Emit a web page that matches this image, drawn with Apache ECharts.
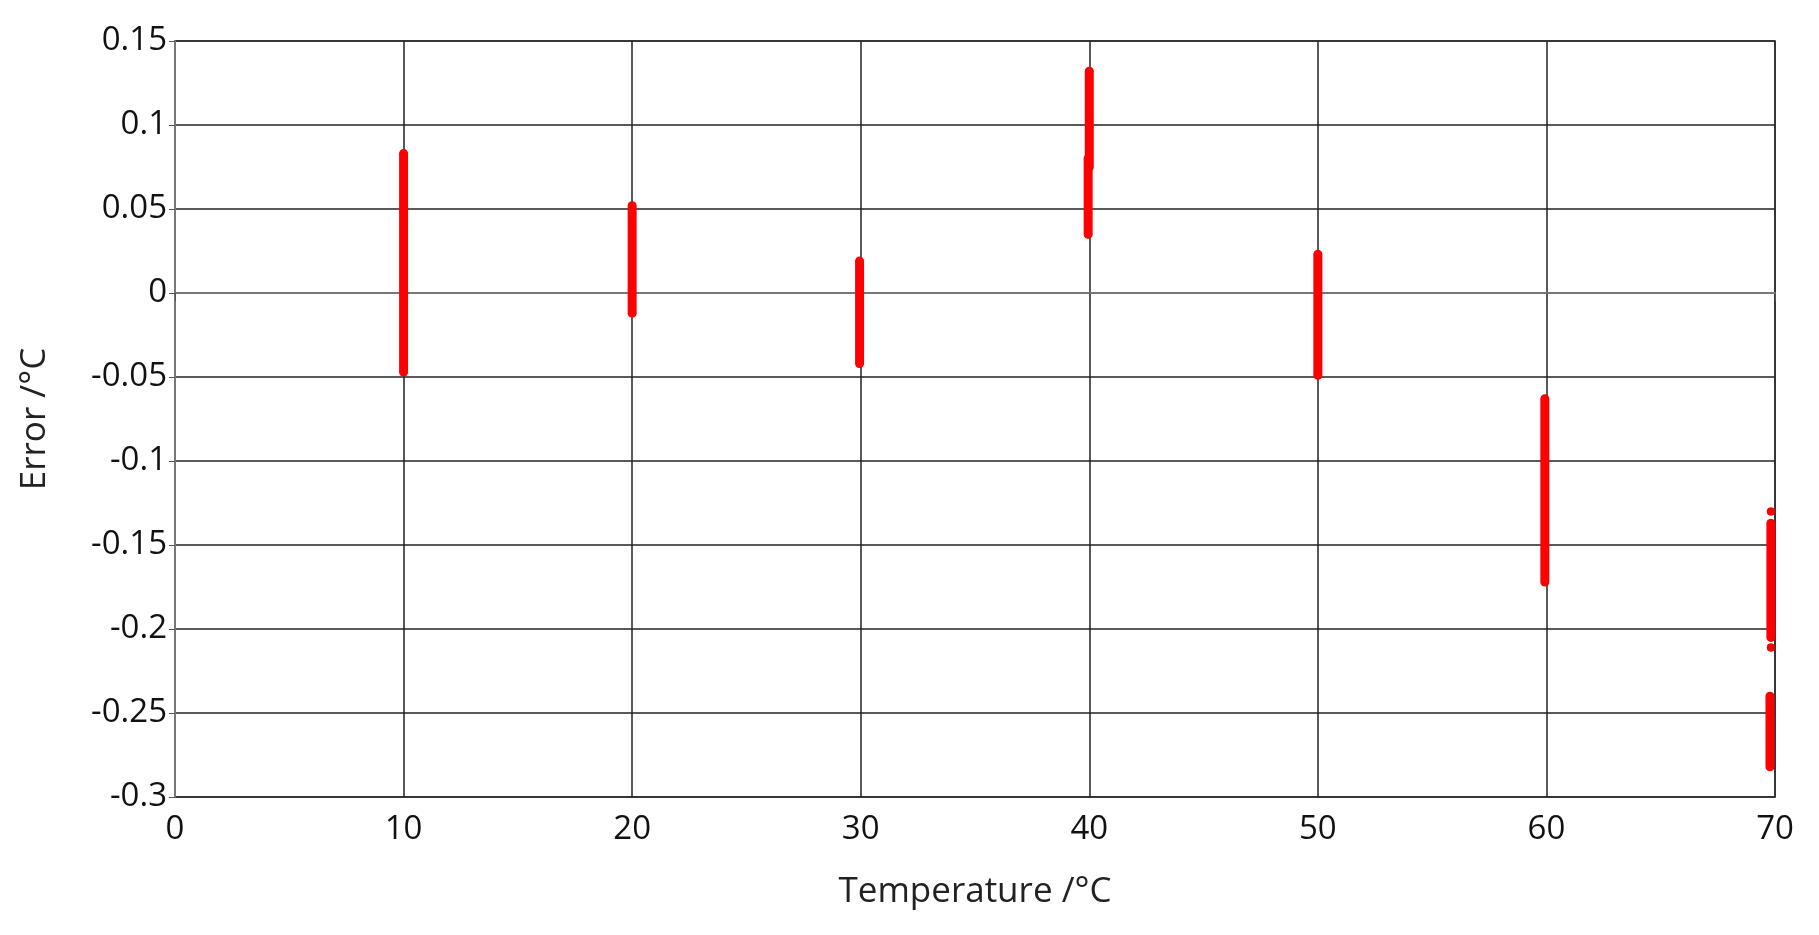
<!DOCTYPE html>
<html><head><meta charset="utf-8">
<script src="https://cdn.jsdelivr.net/npm/echarts@6/dist/echarts.min.js"></script>
<style>html,body{margin:0;background:#fff}#c{width:1819px;height:935px}</style>
</head><body><div id="c"></div>
<script>
// each measured cluster: [temperature, top error, bottom error]
const segX = [10, 20, 29.95, 40, 39.95, 50, 59.93, 69.82, 69.82, 69.82, 69.78];
const segTop = [0.083, 0.052, 0.019, 0.132, 0.08, 0.023, -0.063, -0.13, -0.137, -0.211, -0.24];
const segBottom = [-0.047, -0.012, -0.042, 0.075, 0.035, -0.049, -0.172, -0.13, -0.205, -0.211, -0.282];

const series = segX.map((x, i) => ({
  type: 'line',
  data: [[x, segTop[i]], [x, segBottom[i]]],
  symbol: 'circle',
  symbolSize: 8,
  itemStyle: { color: '#ff0000' },
  lineStyle: { color: '#ff0000', width: 9, cap: 'round' },
  silent: true
}));

const chart = echarts.init(document.getElementById('c'));
const font = 'Open Sans';
chart.setOption({
  animation: false,
  grid: { left: 175, right: 44, top: 41, bottom: 138, show: true, borderColor: '#777', borderWidth: 2 },
  xAxis: {
    type: 'value', min: 0, max: 70, interval: 10,
    name: 'Temperature /°C', nameLocation: 'middle', nameGap: 78,
    nameTextStyle: { fontFamily: font, fontSize: 35, color: '#222' },
    axisLine: { lineStyle: { color: '#777', width: 2 } },
    axisTick: { show: true, length: 8, lineStyle: { color: '#555' } },
    axisLabel: { fontFamily: font, fontSize: 33, color: '#111', margin: 16 },
    splitLine: { lineStyle: { color: '#222', width: 1.5 } }
  },
  yAxis: {
    type: 'value', min: -0.3, max: 0.15, interval: 0.05,
    name: 'Error /°C', nameLocation: 'middle', nameGap: 122,
    nameTextStyle: { fontFamily: font, fontSize: 35, color: '#222' },
    axisLine: { show: true, lineStyle: { color: '#777', width: 2 } },
    axisTick: { show: true, length: 6, lineStyle: { color: '#555' } },
    axisLabel: { fontFamily: font, fontSize: 33, color: '#111', margin: 8,
      formatter: v => String(Math.round(v * 100) / 100) },
    splitLine: { lineStyle: { color: '#222', width: 1.5 } }
  },
  series
});
</script></body></html>
